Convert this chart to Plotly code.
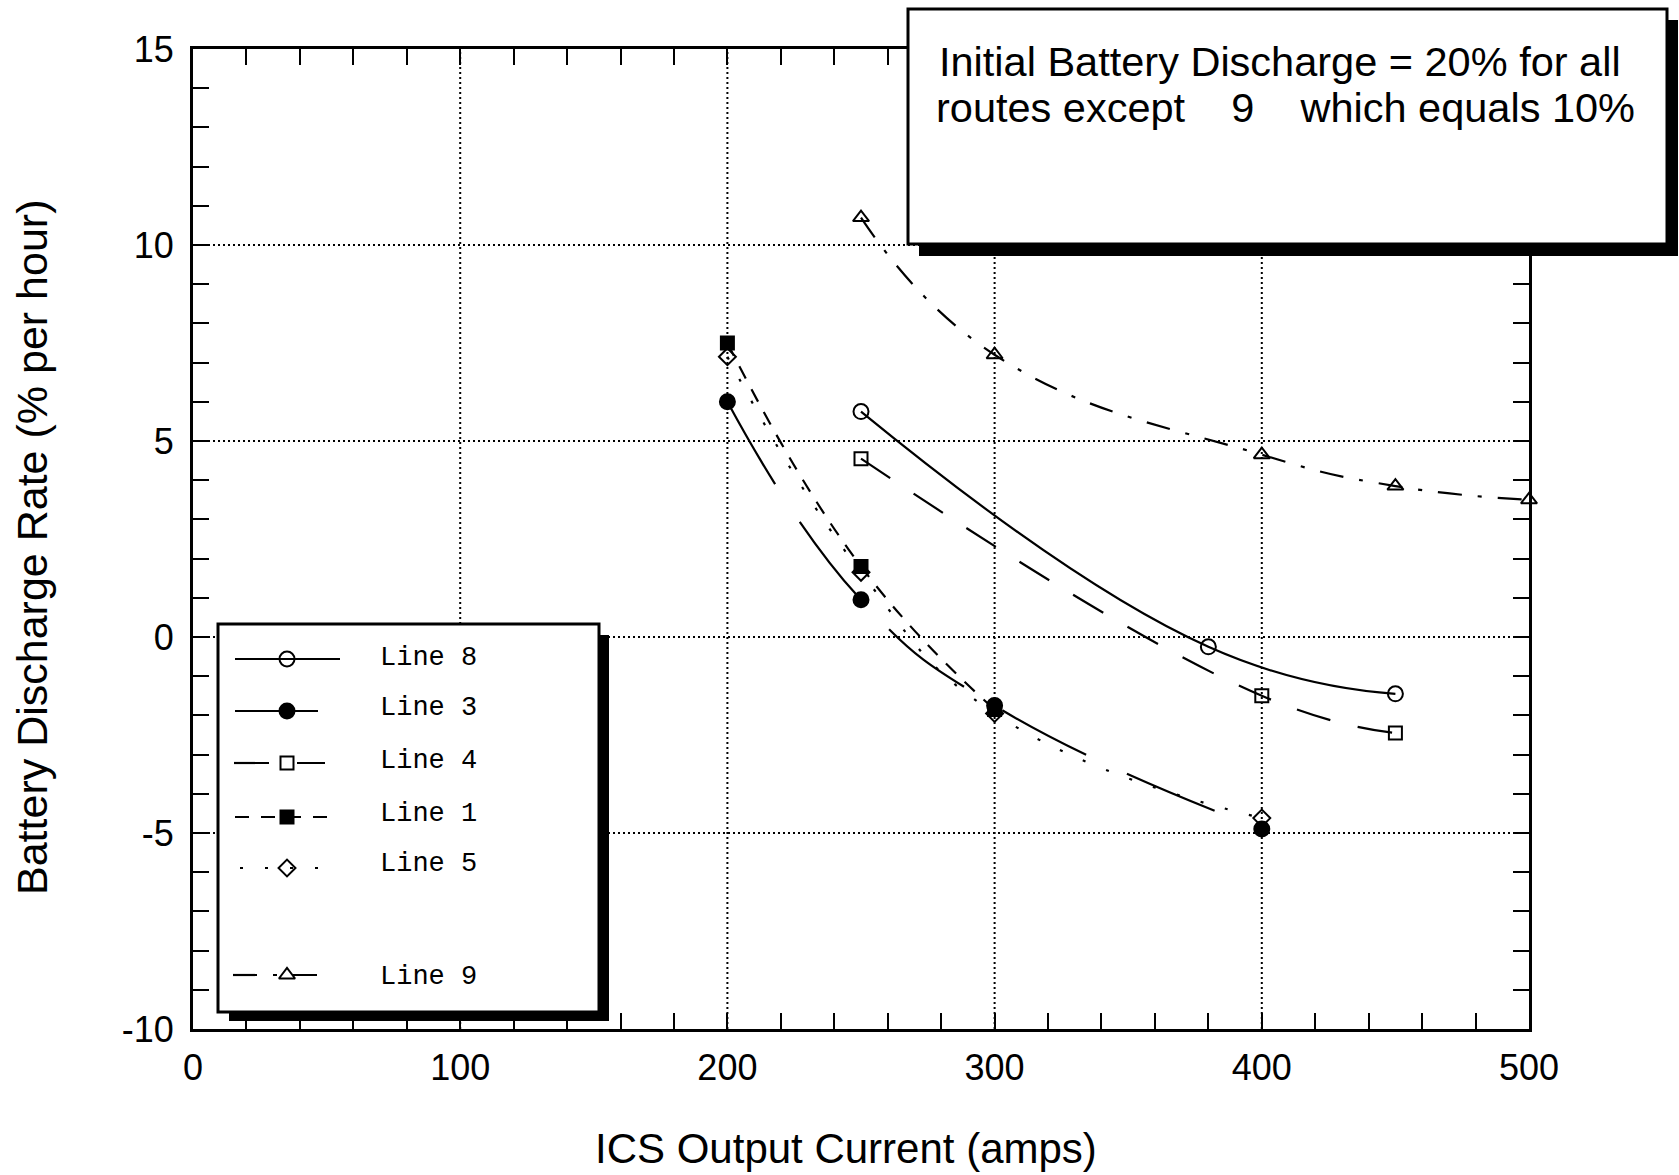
import plotly.graph_objects as go

# ---- data: ICS output current (amps) vs battery discharge rate (% per hour)
current_8 = [250, 380, 450]
rate_8 = [5.75, -0.25, -1.45]

current_3 = [200, 250, 300, 400]
rate_3 = [6.0, 0.95, -1.75, -4.9]

current_4 = [250, 400, 450]
rate_4 = [4.55, -1.5, -2.45]

current_1 = [200, 250, 300]
rate_1 = [7.5, 1.8, -1.85]

current_5 = [200, 250, 300, 400]
rate_5 = [7.15, 1.65, -1.95, -4.62]

current_9 = [250, 300, 400, 450, 500]
rate_9 = [10.7, 7.2, 4.65, 3.85, 3.5]

series_names = ["Line 8", "Line 3", "Line 4", "Line 1", "Line 5", "Line 9"]

x_tick_vals = [0, 100, 200, 300, 400, 500]
x_tick_text = ["0", "100", "200", "300", "400", "500"]
y_tick_vals = [-10, -5, 0, 5, 10, 15]
y_tick_text = ["-10", "-5", "0", "5", "10", "15"]

note_line_1 = "Initial Battery Discharge = 20% for all"
note_line_2 = "routes except\u00a0\u00a0\u00a0 9\u00a0\u00a0\u00a0 which equals 10%"

# ---- page geometry (pixels)
W, H = 1679, 1175
L, R, T, B = 193, 1529, 49, 1029

SANS = "Liberation Sans, Arial, Helvetica, sans-serif"
MONO = "Liberation Mono, Courier New, monospace"
GRID_DASH = "2px,3px"


def px(x):
    return (x - L) / (R - L)


def py(y):
    return (B - y) / (B - T)


styles = {
    "Line 8": dict(dash="solid", symbol="circle-open", size=15),
    "Line 3": dict(dash="95px,45px", symbol="circle", size=15),
    "Line 4": dict(dash="35px,28px", symbol="square-open", size=13),
    "Line 1": dict(dash="14px,12px", symbol="square", size=13),
    "Line 5": dict(dash="3px,22px", symbol="diamond-open", size=13),
    "Line 9": dict(dash="24px,16px,4px,16px", symbol="triangle-up-open", size=14),
}

series = {
    "Line 8": (current_8, rate_8),
    "Line 3": (current_3, rate_3),
    "Line 4": (current_4, rate_4),
    "Line 1": (current_1, rate_1),
    "Line 5": (current_5, rate_5),
    "Line 9": (current_9, rate_9),
}

fig = go.Figure()

for name in series_names:
    xs, ys = series[name]
    st = styles[name]
    fig.add_trace(go.Scatter(
        x=xs, y=ys, name=name, mode="lines+markers",
        line=dict(color="black", width=2.2, dash=st["dash"], shape="spline", smoothing=1.3),
        marker=dict(symbol=st["symbol"], size=st["size"], color="black",
                    line=dict(color="black", width=2)),
        cliponaxis=False, showlegend=False,
    ))

# ---- hand-drawn key inside the plot (overlay axes in pixel units)
key_rows_line = [659, 711, 763, 817, 868, 975]
key_rows_text = [658, 708, 761, 814, 864, 977]
key_spans = [(235, 340), (235, 318), (234, 325), (235, 335), (240, 327), (233, 332)]
key_marker_x = 287

for name, yl, (x0, x1) in zip(series_names, key_rows_line, key_spans):
    st = styles[name]
    fig.add_trace(go.Scatter(
        x=[x0, x1], y=[yl, yl], mode="lines", xaxis="x2", yaxis="y2",
        line=dict(color="black", width=2.2, dash=st["dash"]),
        showlegend=False, hoverinfo="skip",
    ))
    fig.add_trace(go.Scatter(
        x=[key_marker_x], y=[yl], mode="markers", xaxis="x2", yaxis="y2",
        marker=dict(symbol=st["symbol"], size=st["size"], color="black",
                    line=dict(color="black", width=2)),
        showlegend=False, hoverinfo="skip", cliponaxis=False,
    ))

shapes = []
# dotted grid at the labelled ticks (the frame itself covers the end values)
for v in x_tick_vals[1:-1]:
    shapes.append(dict(type="line", xref="x", yref="paper", layer="between",
                       x0=v, x1=v, y0=0, y1=1,
                       line=dict(color="black", width=2, dash=GRID_DASH)))
for v in y_tick_vals[1:-1]:
    shapes.append(dict(type="line", xref="paper", yref="y", layer="between",
                       x0=0, x1=1, y0=v, y1=v,
                       line=dict(color="black", width=2, dash=GRID_DASH)))

shapes += [
    # key box with drop shadow
    dict(type="rect", xref="paper", yref="paper", layer="between",
         x0=px(229), x1=px(609), y0=py(635), y1=py(1021),
         fillcolor="black", line=dict(width=0)),
    dict(type="rect", xref="paper", yref="paper", layer="between",
         x0=px(218), x1=px(599), y0=py(624), y1=py(1012),
         fillcolor="white", line=dict(color="black", width=3)),
    # note box with drop shadow
    dict(type="rect", xref="paper", yref="paper", layer="above",
         x0=px(919), x1=px(1678), y0=py(20), y1=py(256),
         fillcolor="black", line=dict(width=0)),
    dict(type="rect", xref="paper", yref="paper", layer="above",
         x0=px(908), x1=px(1667), y0=py(9), y1=py(244),
         fillcolor="white", line=dict(color="black", width=3)),
]

annotations = []
for name, yt in zip(series_names, key_rows_text):
    annotations.append(dict(
        text=name, xref="paper", yref="paper", x=px(378), y=py(yt),
        xanchor="left", yanchor="middle", showarrow=False,
        font=dict(family=MONO, size=27, color="black"),
    ))

annotations += [
    dict(text=note_line_1, xref="paper", yref="paper", x=px(937), y=py(61),
         xanchor="left", yanchor="middle", showarrow=False,
         font=dict(family=SANS, size=41.5, color="black")),
    dict(text=note_line_2, xref="paper", yref="paper", x=px(934), y=py(108),
         xanchor="left", yanchor="middle", showarrow=False,
         font=dict(family=SANS, size=41.5, color="black")),
    dict(text="ICS Output Current (amps)", xref="paper", yref="paper",
         x=px(846), y=py(1148), xanchor="center", yanchor="middle", showarrow=False,
         font=dict(family=SANS, size=42, color="black")),
    dict(text="Battery Discharge Rate (% per hour)", xref="paper", yref="paper",
         x=px(32), y=py(548), xanchor="center", yanchor="middle", showarrow=False,
         textangle=-90, font=dict(family=SANS, size=43, color="black")),
]

axis_common = dict(
    showline=True, linecolor="black", linewidth=3, mirror="ticks",
    ticks="inside", ticklen=16, tickwidth=2, tickcolor="black",
    showgrid=False, zeroline=False, tickmode="array",
    tickfont=dict(family=SANS, size=36, color="black"),
)

fig.update_layout(
    width=W, height=H,
    margin=dict(l=L, r=W - R, t=T, b=H - B, pad=0),
    paper_bgcolor="white", plot_bgcolor="white",
    showlegend=False,
    xaxis=dict(range=[0, 500], tickvals=x_tick_vals, ticktext=x_tick_text,
               ticklabelstandoff=5,
               minor=dict(tickmode="linear", tick0=0, dtick=20, ticks="inside",
                          ticklen=16, tickwidth=2, tickcolor="black", showgrid=False),
               **axis_common),
    yaxis=dict(range=[-10, 15], tickvals=y_tick_vals, ticktext=y_tick_text,
               ticklabelstandoff=9,
               minor=dict(tickmode="linear", tick0=0, dtick=1, ticks="inside",
                          ticklen=16, tickwidth=2, tickcolor="black", showgrid=False),
               **axis_common),
    xaxis2=dict(overlaying="x", range=[L, R], visible=False, fixedrange=True),
    yaxis2=dict(overlaying="y", range=[B, T], visible=False, fixedrange=True),
    shapes=shapes,
    annotations=annotations,
)

fig.write_html("out.html")
